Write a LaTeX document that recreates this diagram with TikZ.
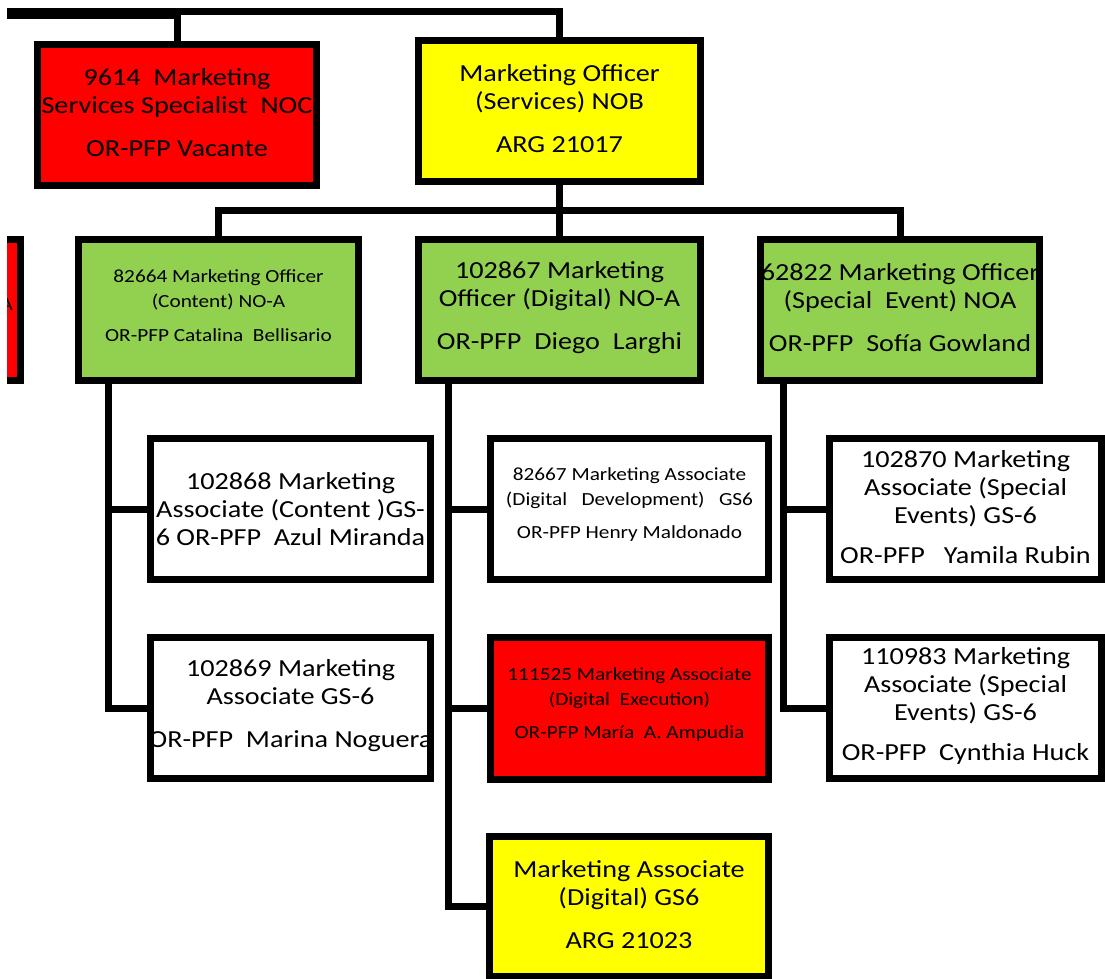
\documentclass[tikz,border=0pt]{standalone}
\usepackage{fontspec}
\setmainfont{Carlito}[FakeStretch=1.15]
\definecolor{posred}{HTML}{FF0000}
\definecolor{posyellow}{HTML}{FFFF00}
\definecolor{posgreen}{HTML}{92D050}

\begin{document}
\begin{tikzpicture}[x=1pt, y=-1pt,
    link/.style={line width=7pt},
    posbox/.style={draw, line width=7pt, inner sep=0pt},
    bigtext/.style={font=\fontsize{24.5}{28}\selectfont, align=center, inner sep=0pt,
      draw=none, fill=none, minimum width=0pt, minimum height=0pt},
    smalltext/.style={font=\fontsize{18.5}{25}\selectfont, align=center, inner sep=0pt,
      draw=none, fill=none, minimum width=0pt, minimum height=0pt}]
    \useasboundingbox (0,0) rectangle (1105,979);
    \clip (7,0) rectangle (1105,979);
    \node[posbox, fill=posred, minimum width=279pt, minimum height=141pt, path picture={
      \node[bigtext] (t9614) at ([yshift=2pt]path picture bounding box.center)
        {9614~~Marketing\\Services Specialist~~NOC\\[15pt]OR-PFP Vacante};}] (r9614) at (177,115) {};
    \node[posbox, fill=posyellow, minimum width=282pt, minimum height=141pt, path picture={
      \node[bigtext] (t21017) at ([yshift=2pt]path picture bounding box.center)
        {Marketing Officer\\(Services) NOB\\[15pt]ARG 21017};}] (y21017) at (559.5,111) {};
    \node[posbox, fill=posred, minimum width=282pt, minimum height=141pt, path picture={
      \node[smalltext, anchor=base east] (tpart) at ([xshift=-4pt]path picture bounding box.east) {A};}] (rpart) at (-120.5,310) {};
    \node[posbox, fill=posgreen, minimum width=280pt, minimum height=141pt, path picture={
      \node[smalltext] (t82664) at ([yshift=4pt]path picture bounding box.center)
        {82664 Marketing Officer\\(Content) NO-A\\[9pt]OR-PFP Catalina~~Bellisario};}] (g82664) at (218.5,310) {};
    \node[posbox, fill=posgreen, minimum width=282pt, minimum height=141pt, path picture={
      \node[bigtext] (t102867) at ([yshift=2pt]path picture bounding box.center)
        {102867 Marketing\\Officer (Digital) NO-A\\[15pt]OR-PFP~~Diego~~Larghi};}] (g102867) at (559.5,310) {};
    \node[posbox, fill=posgreen, minimum width=279pt, minimum height=141pt, path picture={
      \node[bigtext] (t62822) at ([yshift=2pt]path picture bounding box.center)
        {62822 Marketing Officer\\(Special~~Event) NOA\\[15pt]OR-PFP~~Sofía Gowland};}] (g62822) at (900,310) {};
    \node[posbox, fill=white, minimum width=280pt, minimum height=141pt, path picture={
      \node[bigtext] (t102868) at (path picture bounding box.center)
        {102868 Marketing\\Associate (Content )GS-\\6 OR-PFP~~Azul Miranda};}] (a102868) at (290.5,509) {};
    \node[posbox, fill=white, minimum width=280pt, minimum height=141pt, path picture={
      \node[bigtext] (t102869) at ([yshift=2pt]path picture bounding box.center)
        {102869 Marketing\\Associate GS-6\\[15pt]OR-PFP~~Marina Noguera};}] (a102869) at (290.5,708) {};
    \node[posbox, fill=white, minimum width=278pt, minimum height=141pt, path picture={
      \node[smalltext] (t82667) at ([yshift=4pt]path picture bounding box.center)
        {82667 Marketing Associate\\(Digital~~~Development)~~~GS6\\[8pt]OR-PFP Henry Maldonado};}] (b82667) at (629.5,509) {};
    \node[posbox, fill=posred, minimum width=278pt, minimum height=142pt, path picture={
      \node[smalltext] (t111525) at ([yshift=4pt]path picture bounding box.center)
        {111525 Marketing Associate\\(Digital~~Execution)\\[8pt]OR-PFP María~~A. Ampudia};}] (b111525) at (629.5,708.5) {};
    \node[posbox, fill=posyellow, minimum width=279pt, minimum height=140pt, path picture={
      \node[bigtext] (t21023) at ([yshift=2pt]path picture bounding box.center)
        {Marketing Associate\\(Digital) GS6\\[15pt]ARG 21023};}] (b21023) at (629,906.5) {};
    \node[posbox, fill=white, minimum width=272pt, minimum height=141pt, path picture={
      \node[bigtext] (t102870) at ([yshift=2pt]path picture bounding box.center)
        {102870 Marketing\\Associate (Special\\Events) GS-6\\[12pt]OR-PFP~~~Yamila Rubin};}] (c102870) at (965.5,509) {};
    \node[posbox, fill=white, minimum width=272pt, minimum height=141pt, path picture={
      \node[bigtext] (t110983) at ([yshift=2pt]path picture bounding box.center)
        {110983 Marketing\\Associate (Special\\Events) GS-6\\[12pt]OR-PFP~~Cynthia Huck};}] (c110983) at (965.5,708) {};
    \coordinate (offtop) at (0,11.5);
    \coordinate (offred) at (0,15.5);
    \coordinate (busmid) at (559.5,210.5);
    \coordinate (spinea) at (108,381);
    \coordinate (spineb) at (448,381);
    \coordinate (spinec) at (783,381);
    \draw[link] (offtop) -| (y21017.north);
    \draw[link] (offred) -| (r9614.north);
    \draw[link] (y21017.south) -- (g102867.north);
    \draw[link] (g82664.north) |- (busmid) -| (g62822.north);
    \draw[link] (spinea) |- (a102869.west);
    \draw[link] (a102868.west) -- (a102868.west -| spinea);
    \draw[link] (spineb) |- (b21023.west);
    \draw[link] (b82667.west) -- (b82667.west -| spineb);
    \draw[link] (b111525.west) -- (b111525.west -| spineb);
    \draw[link] (spinec) |- (c110983.west);
    \draw[link] (c102870.west) -- (c102870.west -| spinec);
\end{tikzpicture}
\end{document}
